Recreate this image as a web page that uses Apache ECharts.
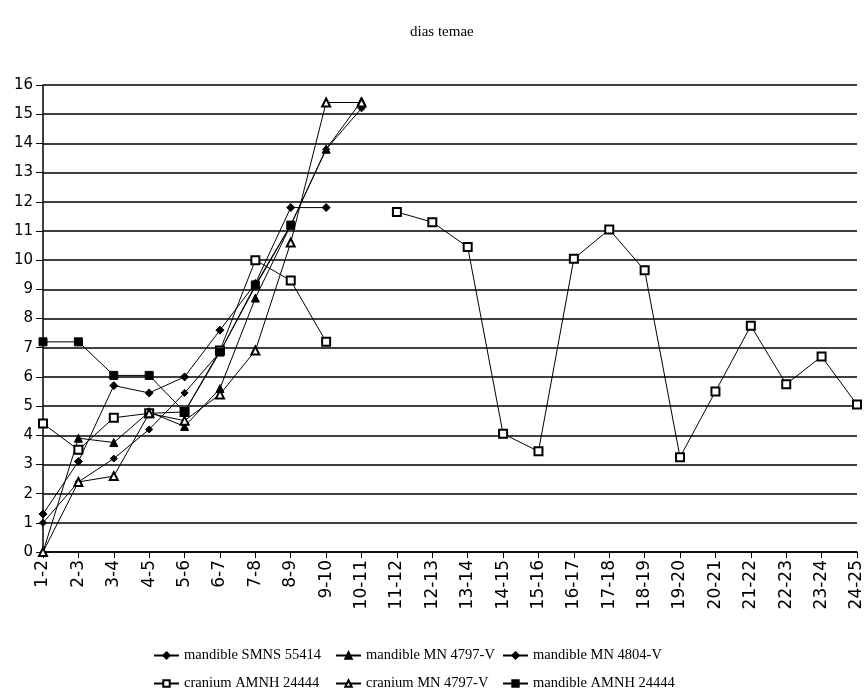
<!DOCTYPE html>
<html><head><meta charset="utf-8">
<script src="https://cdn.jsdelivr.net/npm/echarts@6/dist/echarts.min.js"></script>
<style>html,body{margin:0;padding:0;background:#fff}#c{width:868px;height:694px}</style>
</head><body><div id="c"></div>
<script>
const categories = ["1-2","2-3","3-4","4-5","5-6","6-7","7-8","8-9","9-10","10-11","11-12","12-13","13-14","14-15","15-16","16-17","17-18","18-19","19-20","20-21","21-22","22-23","23-24","24-25"];
const yTicks = [0,1,2,3,4,5,6,7,8,9,10,11,12,13,14,15,16];
const seriesNames = ["mandible SMNS 55414","mandible MN 4797-V","mandible MN 4804-V","cranium AMNH 24444","cranium MN 4797-V","mandible AMNH 24444"];
const mandibleSMNS55414 = [1.3, 3.1, 5.7, 5.45, 6.0, 7.6, 9.2, 11.8, 11.8];
const mandibleMN4797V = [0, 3.9, 3.75, 4.8, 4.3, 5.6, 8.7, 11.2, 13.8, 15.45];
const mandibleMN4804V = [1.0, 2.4, 3.2, 4.2, 5.45, 6.85, 9.1, 11.2, 13.8, 15.2];
const craniumAMNH24444 = [4.4, 3.5, 4.6, 4.75, 4.8, 6.9, 10.0, 9.3, 7.2, null, 11.65, 11.3, 10.45, 4.05, 3.45, 10.05, 11.05, 9.65, 3.25, 5.5, 7.75, 5.75, 6.7, 5.05];
const craniumMN4797V = [0, 2.4, 2.6, 4.75, 4.5, 5.4, 6.9, 10.6, 15.4, 15.4];
const mandibleAMNH24444 = [7.2, 7.2, 6.05, 6.05, 4.8, 6.85, 9.15, 11.2];

const dataSets = [mandibleSMNS55414, mandibleMN4797V, mandibleMN4804V, craniumAMNH24444, craniumMN4797V, mandibleAMNH24444];
const symbols = ['diamond','triangle','diamond','emptyRect','emptyTriangle','rect'];
const sizes = [8, 8, 7, 8, 8, 8];

const chart = echarts.init(document.getElementById('c'), null, {renderer:'canvas'});
const series = dataSets.map((d,i)=>({
  name: seriesNames[i], type:'line', data:d, symbol:symbols[i], symbolSize:sizes[i],
  showAllSymbol:true, connectNulls:false,
  lineStyle:{color:'#000', width:1}, itemStyle:{color:'#000', borderColor:'#000', borderWidth:1},
  emphasis:{disabled:true}, animation:false
}));
const legendPos = [[148,643],[330,643],[497,643],[148,671],[330,671],[497,671]];
const legends = seriesNames.map((n,i)=>({
  data:[n], left:legendPos[i][0], top:legendPos[i][1], itemWidth:25, itemHeight:8, itemGap:4,
  textStyle:{fontFamily:'Liberation Serif', fontSize:14.5, color:'#000'}, selectedMode:false
}));
chart.setOption({
  backgroundColor:'#fff',
  color:['#000'],
  animation:false,
  title:{text:'dias temae', left:405, top:20, textStyle:{fontFamily:'Liberation Serif', fontSize:15, fontWeight:'normal', color:'#000'}},
  legend: legends,
  grid:{left:43, right:11, top:85, bottom:142, containLabel:false},
  xAxis:{type:'category', data:categories, boundaryGap:false,
    axisLine:{lineStyle:{color:'#000', width:1.5}},
    axisTick:{show:true, length:6, lineStyle:{color:'#000'}},
    axisLabel:{rotate:90, interval:0, fontFamily:'DejaVu Sans', fontSize:17, color:'#000', margin:8},
    splitLine:{show:false}},
  yAxis:{type:'value', min:yTicks[0], max:yTicks[yTicks.length-1], interval:1,
    axisLine:{show:true, lineStyle:{color:'#000', width:1.5}},
    axisTick:{show:true, length:7, lineStyle:{color:'#000'}},
    axisLabel:{fontFamily:'DejaVu Sans', fontSize:15, color:'#000', margin:10},
    splitLine:{show:true, lineStyle:{color:'#000', width:1.5}}},
  series: series
});
</script></body></html>
